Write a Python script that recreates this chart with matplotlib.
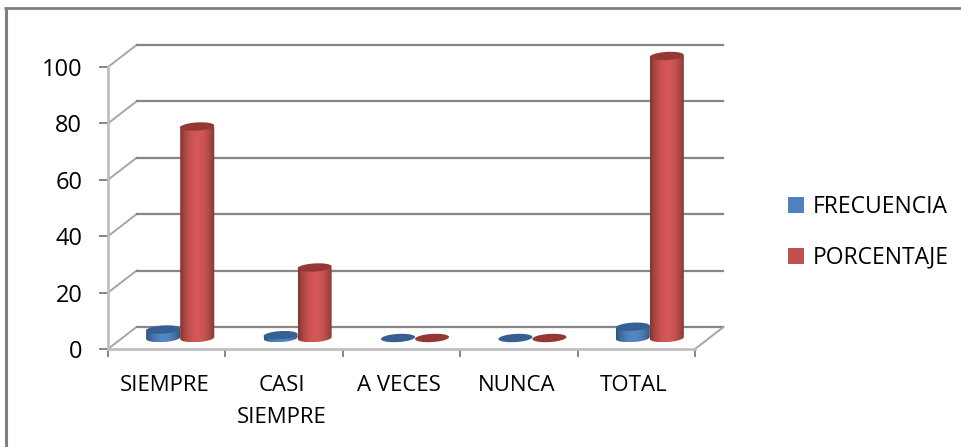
import numpy as np
import matplotlib
matplotlib.use('Agg')
import matplotlib.pyplot as plt
from matplotlib.lines import Line2D
from matplotlib.patches import Patch, Polygon

plt.rcParams['font.family'] = ['Open Sans', 'DejaVu Sans']

categories = ['SIEMPRE', 'CASI\nSIEMPRE', 'A VECES', 'NUNCA', 'TOTAL']
frecuencia = [3, 1, 0, 0, 4]
porcentaje = [75, 25, 0, 0, 100]
yticks = [0, 20, 40, 60, 80, 100]

W, H = 962, 447
fig = plt.figure(figsize=(W / 100, H / 100), dpi=100)
ax = fig.add_axes([108 / W, 1 - 349 / H, 587 / W, 282 / H])
ax.set_xlim(0, 5)
ax.set_ylim(0, 100)
ax.patch.set_visible(False)

# depth of the fake 3d box, in data units
dx = 28.5 / 117.4
dy = 22 / 2.82
bar_w = 0.29
base_x = 0.115
base_y = 3.9
ry = 1.45
tilt = 0.35


def shade(base, t):
    # dark edges, light middle
    k = 0.62 + 0.42 * np.sin(np.pi * t) ** 0.8
    return np.clip(np.array(base) * k, 0, 1)


def ring(cx, cy):
    th = np.linspace(0, 2 * np.pi, 60)
    return np.column_stack([cx + bar_w / 2 * np.cos(th),
                            cy + ry * np.sin(th) + tilt * np.cos(th)])


def cylinder(cx, val, base, top, z):
    y0 = base_y
    y1 = base_y + val
    if val > 0:
        grad = np.array([shade(base, t) for t in np.linspace(0, 1, 40)])[None, :, :]
        im = ax.imshow(grad, extent=[cx - bar_w / 2, cx + bar_w / 2, y0 - ry, y1],
                       aspect='auto', zorder=z, interpolation='bilinear')
        th = np.linspace(np.pi, 2 * np.pi, 30)
        low = np.column_stack([cx + bar_w / 2 * np.cos(th),
                               y0 + ry * np.sin(th) + tilt * np.cos(th)])
        up = np.array([[cx + bar_w / 2, y1], [cx - bar_w / 2, y1]])
        clip = Polygon(np.vstack([low, up]), transform=ax.transData, fc='none', ec='none',
                       clip_on=False)
        ax.add_patch(clip)
        im.set_clip_path(clip)
        im.set_clip_box(fig.bbox)
    ax.add_patch(Polygon(ring(cx, y1), fc=top, ec='none', zorder=z + 0.1, clip_on=False))


# back wall and floor
for v in yticks:
    ax.plot([0, dx], [v, v + dy], color='#a6a6a6', lw=1.4, clip_on=False, zorder=1)
    ax.plot([dx, 5 + dx], [v + dy, v + dy], color='#868686', lw=1.6, clip_on=False, zorder=1)
ax.plot([5, 5 + dx], [0, dy], color='#a6a6a6', lw=1.4, clip_on=False, zorder=1)

for i in range(len(categories)):
    cx = i + 0.5 + base_x
    cylinder(cx - bar_w / 2, frecuencia[i], (0.31, 0.51, 0.74), '#376092', 3)
    cylinder(cx + bar_w / 2, porcentaje[i], (0.80, 0.33, 0.32), '#953735', 5)

ax.set_xlim(0, 5)
ax.set_ylim(0, 100)

for s in ['top', 'right']:
    ax.spines[s].set_visible(False)
for s in ['left', 'bottom']:
    ax.spines[s].set_color('#bdbdbd')
    ax.spines[s].set_linewidth(1.9)
    ax.spines[s].set_zorder(2)

ax.set_yticks(yticks)
ax.tick_params(axis='y', length=6.5, width=1.4, color='#868686', pad=12, labelsize=17)
ax.set_xticks(np.arange(6))
ax.set_xticklabels([])
ax.set_xticks(np.arange(5) + 0.48, minor=True)
ax.set_xticklabels(categories, minor=True, fontsize=16, linespacing=1.65)
ax.tick_params(axis='x', which='major', length=6, width=1.4, color='#868686')
ax.tick_params(axis='x', which='minor', length=0, pad=19)
for lab in ax.get_xticklabels(minor=True):
    lab.set_verticalalignment('top')

handles = [Patch(fc='#4f81bd', ec='none'), Patch(fc='#c0504d', ec='none')]
fig.legend(handles, ['FRECUENCIA', 'PORCENTAJE'], frameon=False, fontsize=16.5,
           handlelength=0.7, handleheight=0.7, handletextpad=0.36, labelspacing=1.15,
           loc='center left', bbox_to_anchor=(788 / W, 1 - 232.5 / H), borderpad=0, borderaxespad=0)

# outer border of the pasted chart
fig.add_artist(Line2D([5.5 / W, 5.5 / W], [0, 1 - 7 / H], color='#808080', lw=2.2,
                      solid_capstyle='butt'))
fig.add_artist(Line2D([4 / W, 1], [1 - 8 / H, 1 - 8 / H], color='#808080', lw=2,
                      solid_capstyle='butt'))

fig.savefig('out.png', dpi=100)
